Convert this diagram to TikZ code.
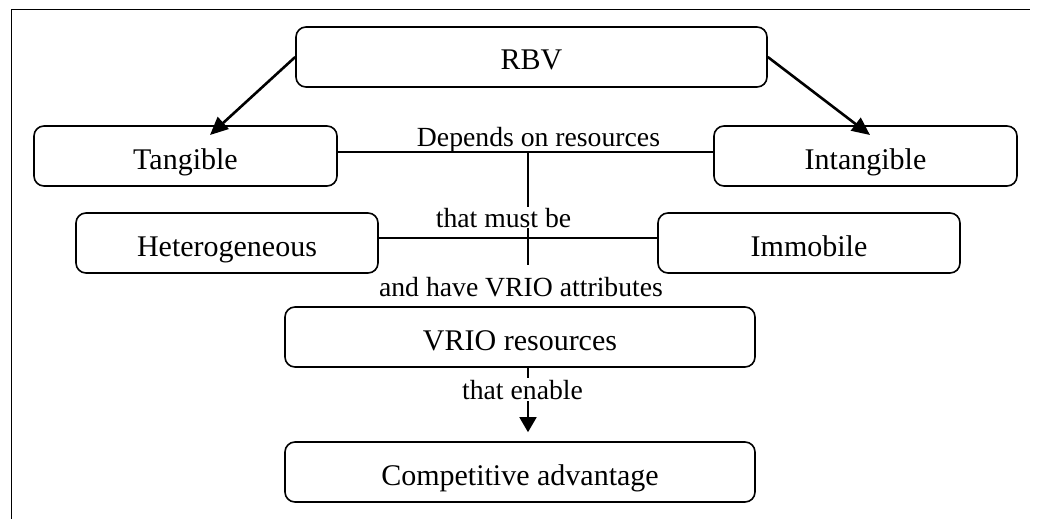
\documentclass[tikz,border=0pt]{standalone}
\usepackage{fontspec}
\setmainfont{Liberation Serif}
\usetikzlibrary{arrows.meta,calc}
\begin{document}
\begin{tikzpicture}[x=1pt,y=-1pt,
  box/.style={draw, line width=1.6pt, rounded corners=10pt, inner sep=0pt,
    minimum height=60pt, text height=26pt, text depth=0pt,
    font=\fontsize{30}{36}\selectfont},
  conn/.style={line width=1.5pt},
  lbl/.style={anchor=base, inner sep=0pt, font=\fontsize{27.7}{33}\selectfont},
  bigarrow/.style={line width=2.6pt, -{Triangle[length=18pt,width=16pt]}},
  smallarrow/.style={line width=1.7pt, -{Triangle[length=15pt,width=17pt]}},
  frame/.style={line width=0.9pt}
]
\useasboundingbox (0,0) rectangle (1039,519);
% frame (top and left edges)
\coordinate (fl) at (11,519);
\coordinate (fc) at (11,9);
\coordinate (fr) at (1030,9);
\draw[frame] (fl) -- (fc) -- (fr);

% boxes
\node[box, minimum width=471pt] (rbv) at (531.5,57) {RBV};
\node[box, minimum width=303pt] (tang) at (185.5,156) {Tangible};
\node[box, minimum width=303pt] (intang) at (865.5,156) {Intangible};
\node[box, minimum width=302pt] (het) at (227,243) {Heterogeneous};
\node[box, minimum width=302pt] (imm) at (809,243) {Immobile};
\node[box, minimum width=470pt] (vrio) at (520,337) {VRIO resources};
\node[box, minimum width=470pt] (comp) at (520,472) {Competitive advantage};

% junction coordinates
\coordinate (j1) at (528,152);
\coordinate (j2) at (528,238);
\coordinate (vend) at (528,265);
\coordinate (ltip) at (210,135);
\coordinate (rtip) at (870,135);

% arrows from RBV
\draw[bigarrow] (rbv.west) -- (ltip);
\draw[bigarrow] (rbv.east) -- (rtip);

% horizontal connectors
\draw[conn] (tang.east |- j1) -- (intang.west |- j1);
\draw[conn] (het.east |- j2) -- (imm.west |- j2);
% vertical connector
\draw[conn] (j1) -- (vend);

% arrow VRIO -> competitive
\draw[smallarrow, shorten >=9pt] (j1 |- vrio.south) -- (j1 |- comp.north);

% labels
\node[lbl] (l1) at (538.5,146) {Depends on resources};
\node[lbl, fill=white, inner ysep=1pt] (l2) at (503.5,227) {that must be};
\node[lbl] (l3) at (521,296) {and have VRIO attributes};
\node[lbl, fill=white, inner ysep=2pt] (l4) at (522.5,399) {that enable};
\end{tikzpicture}
\end{document}
